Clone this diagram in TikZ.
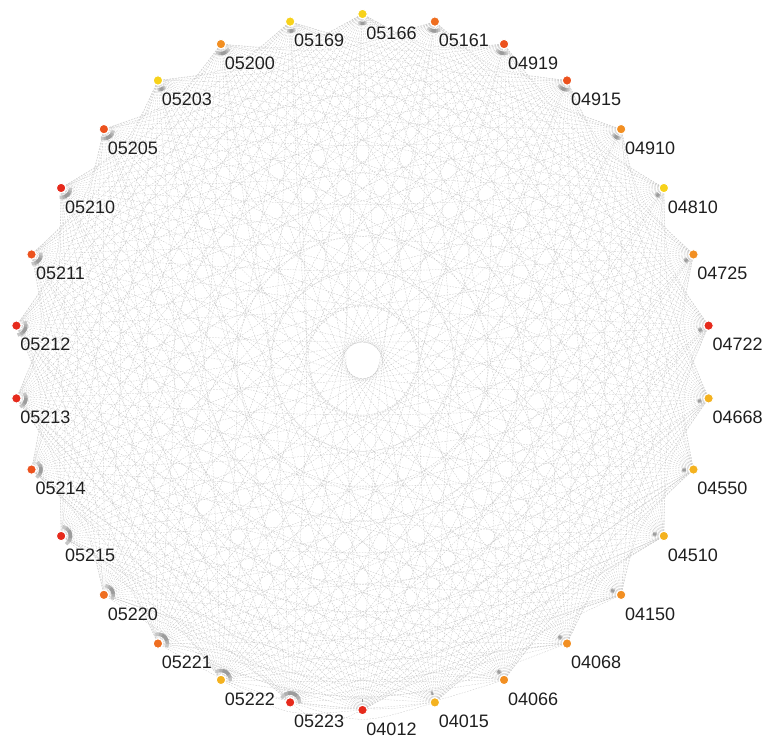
\documentclass[tikz,border=0pt]{standalone}
\usepackage{fontspec}
\setmainfont{Liberation Sans}
\usetikzlibrary{calc,backgrounds}
\definecolor{cRed}{HTML}{E62A1C}
\definecolor{cRedOr}{HTML}{EC521E}
\definecolor{cOrange}{HTML}{EF6E20}
\definecolor{cAmber}{HTML}{F28F22}
\definecolor{cGold}{HTML}{F4B21F}
\definecolor{cYellow}{HTML}{F7D21B}
\begin{document}
\begin{tikzpicture}[x=1pt, y=1pt,
    dot/.style={circle, fill=#1, draw=white, line width=1pt, minimum size=9.5pt, inner sep=0pt},
    lbl/.style={font=\fontsize{18}{20}\selectfont, text=black!88, inner sep=0pt},
    link/.style={draw=gray!48, line width=0.28pt, dash pattern=on 1.6pt off 1.3pt},
    halo/.style={line width=3.4pt}]
    \useasboundingbox (0,0) rectangle (768,738);
    \coordinate (mid) at (362.5,376);
    % pathway nodes round the ring, counter-clockwise from the bottom
    \foreach \k/\name/\col/\spn in {0/04012/cRed/6, 1/04015/cGold/8, 2/04066/cAmber/14,
        3/04068/cAmber/14, 4/04150/cAmber/14, 5/04510/cGold/14, 6/04550/cGold/14,
        7/04668/cGold/14, 8/04722/cRed/16, 9/04725/cAmber/16, 10/04810/cYellow/18,
        11/04910/cAmber/28, 12/04915/cRedOr/38, 13/04919/cRedOr/38, 14/05161/cOrange/40,
        15/05166/cYellow/25, 16/05169/cYellow/25, 17/05200/cAmber/45, 18/05203/cYellow/25,
        19/05205/cRedOr/50, 20/05210/cRed/50, 21/05211/cRedOr/50, 22/05212/cRed/55,
        23/05213/cRed/50, 24/05214/cRedOr/55, 25/05215/cRed/70, 26/05220/cOrange/55,
        27/05221/cOrange/65, 28/05222/cGold/65, 29/05223/cRed/80}{
        \pgfmathsetmacro\ang{-90+12*\k}
        \pgfmathsetmacro\hc{90+12*\k-22*cos(90+12*\k)}
        % grey halo on the inner side
        \draw[halo, gray!45] ($(mid)+(\ang:348)+(\hc-\spn:9.5)$) arc[start angle=\hc-\spn, delta angle=2*\spn, radius=9.5];
        \draw[halo, gray!62] ($(mid)+(\ang:348)+(\hc-0.65*\spn:9.5)$) arc[start angle=\hc-0.65*\spn, delta angle=1.3*\spn, radius=9.5];
        \draw[halo, gray!78] ($(mid)+(\ang:348)+(\hc-0.35*\spn:9.5)$) arc[start angle=\hc-0.35*\spn, delta angle=0.7*\spn, radius=9.5];
        \node[dot=\col] (n\k) at ($(mid)+(\ang:348)$) {};
        \node[lbl] (t\k) at ([xshift=29pt,yshift=-19pt]n\k.center) {\name};
    }
    % links between every pair, bent to one side
    \begin{scope}[on background layer]
        \foreach \i in {0,...,28}{
            \pgfmathtruncatemacro\jfrom{\i+1}
            \foreach \j in {\jfrom,...,29}{
                \draw[link] (n\i) .. controls ($(n\i)!0.5!(n\j)!22pt!90:(n\j)$) .. (n\j);
            }
        }
    \end{scope}
\end{tikzpicture}
\end{document}
